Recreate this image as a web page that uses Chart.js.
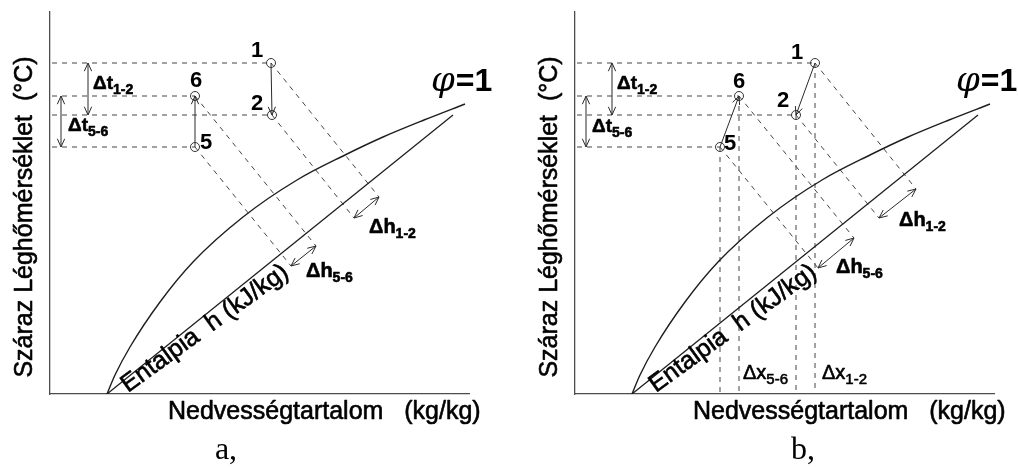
<!DOCTYPE html>
<html>
<head>
<meta charset="utf-8">
<script src="https://cdn.jsdelivr.net/npm/chart.js@4"></script>
<style>
  html, body { margin: 0; padding: 0; background: #fff; }
  #wrap { position: relative; width: 1018px; height: 469px; overflow: hidden; }
  canvas { position: absolute; top: 0; }
  #chartA { left: 0; }
  #chartB { left: 509px; }
</style>
</head>
<body>
<div id="wrap">
  <canvas id="chartA" width="509" height="469"></canvas>
  <canvas id="chartB" width="509" height="469"></canvas>
</div>
<script>
// Schematic Mollier (h-x) diagram, arbitrary units on both axes
const xMax = 419;
const yMax = 382;

// Saturation curve (φ = 1)
const satX = [57, 65, 80, 110, 143, 193, 247, 295, 333, 374, 415];
const satY = [0, 19, 47, 92, 132, 177, 214, 239, 257, 274, 290];

// Enthalpy axis
const enthX = [57, 403];
const enthY = [0, 279];

// States 1, 2, 6, 5 (temperature is the same in both diagrams)
const stateNames = ['1', '2', '6', '5'];
const stateY = [331, 279, 298, 247];
const stateXa = [221, 222, 145, 145];
const stateXb = [240, 221, 164, 145];

// Ends of the constant-enthalpy lines through each state
const hEndXa = [329, 304, 266, 241];
const hEndYa = [197, 176, 148, 128];
const hEndXb = [341, 304, 279, 243];
const hEndYb = [205, 176, 156, 126];

// State number label positions
const numXa = [207, 207, 146, 156];
const numYa = [344, 291, 314, 252];
const numXb = [222, 208, 164, 155];
const numYb = [342, 294, 313, 251];

// Δt dimension arrows (x position) for 1-2 and 5-6
const dtArrowXa = [38, 11];
const dtArrowXb = [37, 11];

// Text
const yTitle = 'Száraz Léghőmérséklet  (°C)';
const xTitle = 'Nedvességtartalom   (kg/kg)';
const enthTitle = 'Entalpia  h (kJ/kg)';
const subLabels = ['1-2', '5-6'];
const captions = ['a,', 'b,'];

const SANS = '"Liberation Sans", Arial, sans-serif';
const SERIF = '"Liberation Serif", "Times New Roman", serif';

function drawArrowHead(ctx, fx, fy, tx, ty, len) {
  const a = Math.atan2(ty - fy, tx - fx);
  const spread = 0.42;
  ctx.beginPath();
  ctx.moveTo(tx - len * Math.cos(a - spread), ty - len * Math.sin(a - spread));
  ctx.lineTo(tx, ty);
  ctx.lineTo(tx - len * Math.cos(a + spread), ty - len * Math.sin(a + spread));
  ctx.stroke();
}

// regular-weight text with a slightly heavier stroke
function heavyText(ctx, text, x, y) {
  ctx.fillText(text, x, y);
  ctx.strokeText(text, x, y);
}

function drawSubText(ctx, main, sub, x, y, size, subSize, weight) {
  ctx.font = weight + ' ' + size + 'px ' + SANS;
  ctx.textAlign = 'left';
  ctx.textBaseline = 'alphabetic';
  heavyText(ctx, main, x, y);
  const w = ctx.measureText(main).width;
  ctx.font = weight + ' ' + subSize + 'px ' + SANS;
  heavyText(ctx, sub, x + w, y + 5);
}

const annotationPlugin = {
  id: 'annotations',
  afterDatasetsDraw(chart, args, opts) {
    const ctx = chart.ctx;
    const xs = chart.scales.x, ys = chart.scales.y;
    const px = v => xs.getPixelForValue(v);
    const py = v => ys.getPixelForValue(v);
    const area = chart.chartArea;
    const p = opts.panel;

    ctx.save();
    ctx.strokeStyle = '#2a2a2a';
    ctx.lineWidth = 1;
    ctx.setLineDash([]);

    // arrows: [x1, y1, x2, y2, bothEnds]
    p.arrows.forEach(a => {
      const x1 = px(a[0]), y1 = py(a[1]), x2 = px(a[2]), y2 = py(a[3]);
      ctx.beginPath();
      ctx.moveTo(x1, y1);
      ctx.lineTo(x2, y2);
      ctx.stroke();
      drawArrowHead(ctx, x1, y1, x2, y2, 9);
      if (a[4]) drawArrowHead(ctx, x2, y2, x1, y1, 9);
    });

    ctx.fillStyle = '#000';
    ctx.strokeStyle = '#000';
    ctx.lineWidth = 0.6;
    ctx.lineJoin = 'round';

    // axis titles
    ctx.save();
    ctx.font = '25px ' + SANS;
    ctx.textAlign = 'center';
    ctx.textBaseline = 'alphabetic';
    ctx.translate(area.left - 18, 217);
    ctx.rotate(-Math.PI / 2);
    heavyText(ctx, yTitle, 0, 0);
    ctx.restore();

    ctx.font = '25px ' + SANS;
    ctx.textAlign = 'left';
    ctx.textBaseline = 'alphabetic';
    heavyText(ctx, xTitle, area.left + 118, 419);

    // enthalpy axis title
    ctx.save();
    ctx.translate(px(p.enthLabel[0]), py(p.enthLabel[1]));
    ctx.rotate(-36 * Math.PI / 180);
    ctx.font = '25px ' + SANS;
    ctx.textAlign = 'left';
    ctx.textBaseline = 'alphabetic';
    heavyText(ctx, enthTitle, 0, 0);
    ctx.restore();

    // state numbers
    ctx.font = 'bold 22px ' + SANS;
    ctx.textAlign = 'center';
    ctx.textBaseline = 'middle';
    stateNames.forEach((n, i) => ctx.fillText(n, px(p.numX[i]), py(p.numY[i]) + 1));

    // Δ labels
    p.dt.forEach((d, i) => drawSubText(ctx, 'Δt', subLabels[i], px(d[0]), py(d[1]), 19, 14, 'bold'));
    p.dh.forEach((d, i) => drawSubText(ctx, 'Δh', subLabels[i], px(d[0]), py(d[1]), 20, 14, 'bold'));
    if (p.dx) p.dx.forEach((d, i) => drawSubText(ctx, 'Δx', subLabels[i], px(d[0]), py(d[1]), 20, 15, 'normal'));

    // φ = 1
    ctx.textAlign = 'left';
    ctx.textBaseline = 'alphabetic';
    ctx.font = 'italic 34px "DejaVu Serif", ' + SERIF;
    const phiX = px(381), phiY = py(303);
    ctx.fillText('φ', phiX, phiY);
    const phiW = ctx.measureText('φ').width;
    ctx.font = 'bold 32px ' + SANS;
    ctx.fillText('=1', phiX + phiW + 1, phiY);

    // panel caption
    ctx.font = '32px ' + SERIF;
    ctx.textAlign = 'center';
    ctx.fillText(p.caption, area.left + p.captionDx, 459);

    ctx.restore();
  }
};

function buildPanel(canvasId, sx, hx, hy, nx, ny, dtX, extra) {
  const dash = {
    showLine: true, pointRadius: 0, borderColor: '#444',
    borderWidth: 1, borderDash: [5, 5], fill: false
  };
  const datasets = [];

  datasets.push({
    data: satX.map((x, i) => ({ x, y: satY[i] })),
    showLine: true, pointRadius: 0, borderColor: '#1e1e1e', borderWidth: 1.4,
    cubicInterpolationMode: 'monotone'
  });
  datasets.push({
    data: enthX.map((x, i) => ({ x, y: enthY[i] })),
    showLine: true, pointRadius: 0, borderColor: '#1e1e1e', borderWidth: 1.3
  });

  // temperature leaders to the y axis
  sx.forEach((x, i) => datasets.push(Object.assign({}, dash, {
    data: [{ x: 2, y: stateY[i] }, { x, y: stateY[i] }]
  })));
  // constant-enthalpy lines
  sx.forEach((x, i) => datasets.push(Object.assign({}, dash, {
    data: [{ x, y: stateY[i] }, { x: hx[i], y: hy[i] }]
  })));
  // moisture content leaders to the x axis
  if (extra.verticals) {
    sx.forEach((x, i) => datasets.push(Object.assign({}, dash, {
      data: [{ x, y: stateY[i] }, { x, y: 0 }]
    })));
  }
  // state markers
  datasets.push({
    data: sx.map((x, i) => ({ x, y: stateY[i] })),
    showLine: false, pointRadius: 4.5, pointStyle: 'circle',
    pointBorderColor: '#333', pointBackgroundColor: 'rgba(0,0,0,0)', pointBorderWidth: 1
  });

  const arrows = [
    [sx[0], stateY[0], sx[1], stateY[1], false],          // process 1 → 2
    [sx[3], stateY[3], sx[2], stateY[2], false],          // process 5 → 6
    [dtX[0], stateY[0], dtX[0], stateY[1], true],         // Δt 1-2
    [dtX[1], stateY[2], dtX[1], stateY[3], true],         // Δt 5-6
    [hx[1], hy[1], hx[0], hy[0], true],                   // Δh 1-2
    [hx[3], hy[3], hx[2], hy[2], true]                    // Δh 5-6
  ];

  const hideAxis = {
    type: 'linear', min: 0, display: true,
    ticks: { display: false },
    grid: { display: false, drawTicks: false },
    border: { display: true, color: '#4d4d4d', width: 1.3 }
  };

  return new Chart(document.getElementById(canvasId), {
    type: 'scatter',
    data: { datasets },
    options: {
      responsive: false,
      animation: false,
      events: [],
      layout: { padding: extra.padding },
      scales: {
        x: Object.assign({}, hideAxis, { max: xMax, afterFit(s) { s.height = 0; } }),
        y: Object.assign({}, hideAxis, { max: yMax, afterFit(s) { s.width = 0; } })
      },
      plugins: {
        legend: { display: false },
        tooltip: { enabled: false },
        annotations: {
          panel: {
            arrows,
            numX: nx, numY: ny,
            enthLabel: extra.enthLabel,
            dt: extra.dt, dh: extra.dh, dx: extra.dx,
            caption: extra.caption, captionDx: extra.captionDx
          }
        }
      }
    },
    plugins: [annotationPlugin]
  });
}

buildPanel('chartA', stateXa, hEndXa, hEndYa, numXa, numYa, dtArrowXa, {
  padding: { left: 50, right: 40, top: 12, bottom: 75 },
  enthLabel: [78, 1],
  dt: [[43, 305], [18, 263]],
  dh: [[319, 161], [256, 117]],
  caption: captions[0], captionDx: 176
});

buildPanel('chartB', stateXb, hEndXb, hEndYb, numXb, numYb, dtArrowXb, {
  padding: { left: 66, right: 24, top: 12, bottom: 75 },
  verticals: true,
  enthLabel: [81, 1],
  dt: [[42, 305], [17, 262]],
  dh: [[324, 168], [261, 121]],
  dx: [[247, 15], [168, 15]],
  caption: captions[1], captionDx: 228
});
</script>
</body>
</html>
